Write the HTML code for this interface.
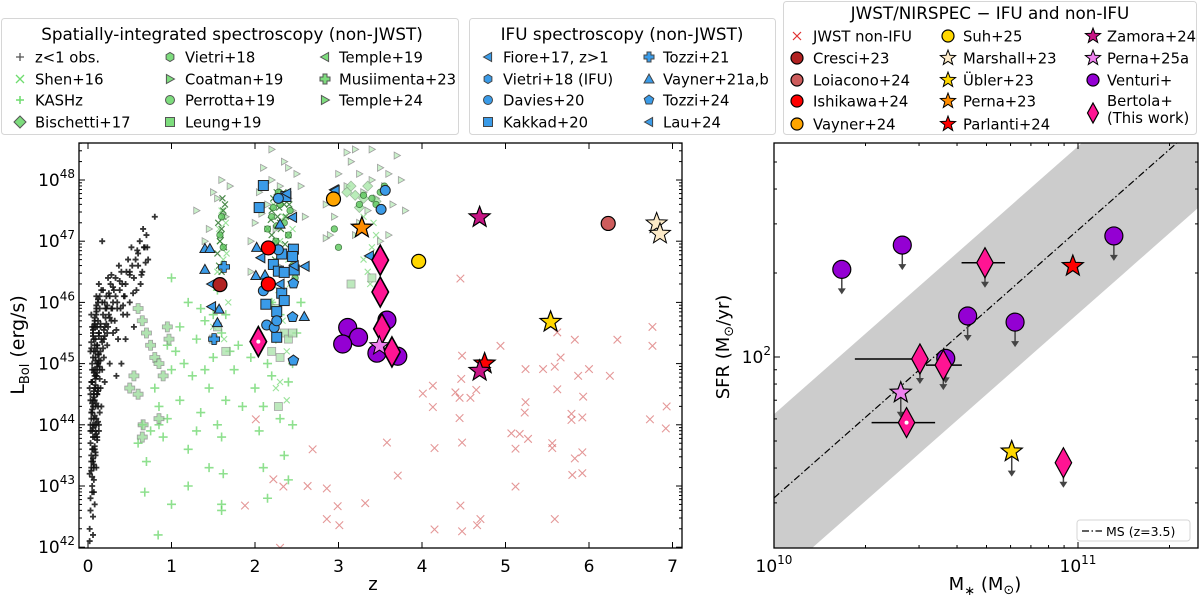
<!DOCTYPE html>
<html><head><meta charset="utf-8">
<style>
html,body{margin:0;padding:0;background:#fff;}
body{width:1200px;height:595px;overflow:hidden;font-family:"Liberation Sans","DejaVu Sans",sans-serif;}
svg text{font-family:"DejaVu Sans","Liberation Sans",sans-serif;fill:#000;}
</style></head>
<body>
<svg id="fig" width="1200" height="595" viewBox="0 0 1200 595" xmlns="http://www.w3.org/2000/svg">
<defs>
<clipPath id="clipL"><rect x="79" y="143" width="603" height="405"/></clipPath>
<clipPath id="clipR"><rect x="774" y="143" width="424" height="405"/></clipPath>
</defs>
<g id="legends"></g>
<g id="left"></g>
<g id="right"></g>
</svg>
<script>
// ---------------- LEFT PANEL DATA (z, log Lbol) ----------------
const blackZ=[0.02,0.03,0.02,0.04,0.05,0.06,0.03,0.08,0.05,0.07,0.1,0.04,0.09,0.06,0.12,0.08,0.11,0.13,0.05,0.15,0.1,0.14,0.17,0.2,0.18,0.22,0.25,0.27,0.3,0.23,0.26,0.3,0.33,0.35,0.38,0.4,0.36,0.42,0.45,0.48,0.5,0.52,0.55,0.58,0.6,0.62,0.65,0.68,0.7,0.55,0.45,0.4,0.34,0.2,0.16,0.13,0.1,0.07,0.06,0.17,0.8,0.03,0.05,0.07,0.09,0.11,0.12,0.08,0.06,0.09,0.14,0.16,0.19,0.21,0.24,0.28,0.31,0.37,0.43,0.47,0.5,0.57,0.63,0.72,0.66,0.03,0.02,0.04,0.1,0.13,0.07,0.05,0.03,0.08,0.11,0.06,0.04,0.09,0.12,0.15,0.02,0.04,0.06,0.08,0.1,0.12,0.14,0.07,0.05,0.09,
0.03,0.05,0.07,0.09,0.11,0.04,0.06,0.08,0.10,0.12,0.03,0.05,0.07,0.09,0.11,0.13,0.04,0.06,0.08,0.10,0.05,0.07,0.09,0.11,0.06,0.08,0.10,0.12,0.14,0.16,0.18,0.20,0.22,0.24,0.26,0.28,0.32,0.35,0.39,0.44,0.19,0.23,0.29,0.33,0.41,0.46,0.53,0.6,0.67,0.71,0.15,0.17,0.13,0.11,0.09,0.07,0.05,0.03,0.08,0.06,
0.04,0.06,0.08,0.10,0.12,0.05,0.07,0.09,0.11,0.13,0.04,0.06,0.08,0.10,0.12,0.14,0.05,0.07,0.09,0.11,0.06,0.08,0.10,0.12,0.14,0.07,0.09,0.11,0.13,0.15,0.04,0.06,0.08,0.10,0.12,0.05,0.07,0.09,0.11,0.13,0.17,0.19,0.21,0.23,0.25,0.15,0.18,0.2,0.22,0.26,0.28,0.3,0.34,0.38,0.42,0.5,0.54,0.59,0.64,0.69];
const blackL=[42.3,42.8,43.2,43.5,43.0,43.8,44.0,43.6,44.2,44.5,44.1,44.7,44.9,45.1,44.6,45.3,45.0,45.5,45.6,45.2,45.8,45.9,46.0,45.6,46.2,46.1,45.8,46.3,46.0,45.3,45.0,45.5,46.4,45.9,46.2,46.5,45.4,45.8,46.3,46.7,46.0,46.9,46.4,46.2,46.8,47.0,46.5,46.9,47.1,45.6,45.4,45.0,44.8,44.7,44.3,43.9,43.3,42.9,42.5,47.0,47.4,44.4,44.9,45.4,45.6,45.3,44.3,44.0,43.4,44.6,44.9,45.4,45.1,45.9,46.4,45.7,46.2,46.6,46.1,45.8,46.5,46.7,46.3,46.7,47.2,45.2,44.6,45.8,46.1,46.3,43.1,43.6,43.9,44.8,44.5,44.3,44.1,45.2,45.7,45.6,42.1,43.3,44.0,44.4,44.8,45.0,44.2,45.6,44.7,43.9,
43.7,43.9,44.1,44.3,44.5,44.2,44.4,44.6,44.8,45.0,44.5,44.7,44.9,45.1,45.3,45.5,43.4,43.6,43.8,44.0,45.0,45.2,45.4,45.6,45.5,45.7,45.9,46.0,46.1,46.2,45.8,46.0,45.9,45.6,46.1,45.9,45.7,46.0,45.9,46.1,45.4,45.5,45.9,46.1,46.3,46.5,46.6,46.6,46.9,46.9,44.6,44.9,44.0,43.8,43.5,43.3,42.9,42.6,42.7,42.2,
43.25,43.45,43.65,43.85,44.05,44.25,44.45,44.65,44.85,45.05,45.25,45.45,45.65,45.85,45.15,44.95,43.15,43.35,43.55,43.75,43.95,44.15,44.35,44.55,44.75,44.85,45.05,45.25,45.45,45.65,45.35,45.55,45.75,45.95,46.05,44.35,44.55,44.75,44.95,45.15,45.35,45.55,45.75,45.95,46.15,45.05,45.25,45.45,45.65,45.75,46.45,46.25,45.55,46.35,45.95,46.45,46.15,46.85,46.45,46.65];
const kashZ=[0.6,0.65,0.7,0.68,0.8,0.85,0.9,0.95,1.0,1.0,1.05,1.1,1.15,1.2,1.2,1.25,1.3,1.35,1.4,1.45,1.45,1.5,1.55,1.6,1.6,1.65,1.6,1.7,1.75,1.8,1.0,0.85,0.84,1.1,1.3,1.4,1.5,1.55,1.65,1.95,2.0,2.05,2.1,2.1,2.15,2.2,2.25,2.3,2.35,2.4,2.45,2.5,2.45,2.55,2.4,2.15,2.3,2.2,1.2,0.75,1.35,0.95,1.85,1.6,1.62];
const kashL=[43.7,44.0,43.4,42.9,44.6,44.3,43.8,44.1,42.7,44.9,45.2,44.4,45.0,43.6,46.0,44.8,45.4,44.2,45.7,44.6,43.3,45.1,44.0,45.5,43.8,44.4,42.6,45.2,44.9,45.3,46.4,44.0,42.2,45.6,43.9,44.9,45.8,46.2,45.8,45.1,44.6,43.9,44.3,43.3,45.0,44.8,45.4,44.1,43.5,44.7,45.0,45.5,44.0,46.0,43.1,42.8,45.8,46.0,43.0,43.9,45.9,45.3,44.3,42.7,43.2];
const shenZ=[1.55,1.6,1.62,1.58,1.65,1.6,1.55,1.68,1.5,1.63,1.57,1.66,2.2,2.25,2.3,2.35,2.28,2.4,2.45,2.22,2.33,2.38,2.42,2.3,2.25,2.38,3.3,3.35,3.4,3.45,3.38,3.42,3.3];
const shenL=[45.9,46.3,46.7,47.0,47.3,47.5,46.5,46.0,45.6,45.4,47.2,46.8,46.0,46.5,47.0,47.4,46.2,46.7,47.2,47.6,45.7,45.2,46.3,44.7,44.6,44.4,46.7,46.5,46.9,47.1,46.3,47.3,47.4];
const denseZ=[1.55,1.58,1.6,1.62,1.64,1.57,1.61,1.59,1.63,1.6,1.56,1.62,2.15,2.2,2.25,2.3,2.35,2.4,2.18,2.22,2.27,2.32,2.37,2.2,2.26,2.31,2.36,2.24,2.29,2.34,2.19,2.41];
const denseL=[46.8,47.0,47.2,47.4,47.6,46.6,47.7,47.1,46.9,46.5,47.3,47.5,47.2,47.5,47.0,47.3,47.6,47.1,46.9,47.7,47.4,46.8,47.4,47.1,47.8,47.2,46.95,46.7,47.55,47.8,47.35,47.6];
const coatZ=[1.3,1.45,1.55,1.6,1.65,1.7,1.5,1.4,1.95,1.95,2.0,2.05,2.1,2.15,2.2,2.25,2.3,2.35,2.4,2.45,2.5,2.55,2.6,2.2,2.4,2.08,2.18,2.28,2.45,2.85,2.9,3.0,3.1,3.15,3.2,3.25,3.3,3.35,3.4,3.45,3.5,3.55,3.6,3.7,3.75,3.65,3.8,3.2,3.5,3.25,2.95,3.6,2.85,3.1,3.4];
const coatL=[47.5,47.2,47.7,48.0,47.4,47.9,47.8,47.0,47.0,46.5,47.3,47.8,48.2,47.6,48.0,47.2,47.9,48.3,47.7,47.5,48.1,47.9,47.4,48.5,48.2,47.45,46.9,46.6,46.9,47.6,47.1,48.1,47.9,48.3,48.5,48.1,47.8,47.5,48.0,47.7,48.2,47.9,48.1,48.4,48.0,47.6,47.5,47.1,47.0,47.3,47.4,47.1,47.05,48.45,48.5];
const vietriZ=[2.15,2.2,2.25,2.3,2.35,2.4,2.28,2.18,2.32,2.42,2.22,2.38,2.26,1.58,1.62,1.6,2.45,2.48,3.4,3.5,3.45,3.55,2.95,3.0,3.25,3.3];
const vietriL=[47.2,47.4,47.0,47.6,47.3,47.1,47.8,46.9,46.8,47.5,47.55,47.7,47.25,47.1,46.9,47.4,46.6,46.4,47.7,47.8,47.6,47.9,47.2,46.9,47.6,47.75];
const bischZ=[3.15,3.2,3.3,3.35,3.25,3.1,3.45];
const bischL=[47.9,47.75,47.7,47.9,47.55,47.8,47.65];
const leungZ=[1.65,1.55,2.25,2.35,2.4,2.3,2.28,2.45,3.15,3.4,1.5,2.2];
const leungL=[45.2,45.6,45.9,45.5,45.4,45.1,44.3,45.5,46.3,46.4,45.4,45.2];
const musiZ=[0.5,0.55,0.6,0.7,0.75,0.65,0.8,0.85,0.9,0.95,0.97,0.6,0.66,0.65,0.85];
const musiL=[44.6,44.8,44.5,45.5,45.3,45.7,45.1,45.0,44.8,45.6,45.4,45.9,44.0,43.8,44.1];
const kakkadZ=[2.10,2.05,2.37,2.46,2.32,2.45,2.22,2.28,2.35,2.47,2.32,2.35,2.13,2.26,2.26];
const kakkadL=[47.91,47.55,47.73,46.87,46.79,46.75,46.62,46.51,46.49,46.53,46.15,46.03,45.97,45.85,45.43];
const daviesZ=[2.28,2.10,2.14,2.23,2.26,2.28,3.56,3.51];
const daviesL=[47.70,46.19,45.63,45.59,45.70,46.86,47.83,47.52];
const vaynerZ=[1.40,1.46,1.40,1.57,1.55,2.02,2.01,2.12,2.30,2.59];
const vaynerL=[46.88,46.88,46.54,45.89,45.67,46.90,46.44,46.45,47.28,45.77];
const fioreZ=[1.48,1.48,2.07,2.30,2.38,2.45,2.60,2.47,3.37,2.95];
const fioreL=[46.30,45.93,46.73,46.30,47.78,47.39,46.59,46.60,46.76,47.84];
const tozzi21Z=[1.63,1.51];
const tozzi21L=[46.58,45.40];
const tozzi24Z=[2.46,2.45,2.46];
const tozzi24L=[45.05,45.76,46.31];
const jwstZ=[4.46,6.76,6.76,5.83,6.34,5.62,4.94,4.48,5.66,5.24,5.45,5.59,6.0,5.87,6.25,4.47,4.13,4.01,4.40,4.65,4.45,4.58,5.62,5.93,4.13,5.24,5.23,5.79,5.92,5.79,6.93,6.73,6.92,4.45,5.07,5.17,5.27,3.58,4.15,4.48,5.12,5.56,5.56,5.83,5.92,2.69,3.71,5.80,5.92,2.63,2.86,5.12,3.32,2.99,4.46,2.86,3.01,4.70,4.66,5.59,4.15,4.48,2.01,2.22,2.34,1.88,2.30];
const jwstL=[46.39,45.60,45.29,45.39,45.39,45.51,45.29,45.13,45.10,44.91,44.91,44.95,44.91,44.80,44.80,44.75,44.64,44.51,44.53,44.57,44.44,44.44,44.58,44.46,44.29,44.37,44.20,44.18,44.12,44.08,44.30,44.09,43.94,44.11,43.86,43.85,43.77,43.71,43.62,43.71,43.61,43.70,43.62,43.45,43.55,43.60,43.17,43.18,43.21,43.00,42.96,42.99,42.72,42.67,42.68,42.46,42.36,42.46,42.36,42.46,42.29,42.26,44.09,43.11,42.99,42.68,41.99];
const cresciZ=[1.58], cresciL=[46.29];
const loiaZ=[6.23], loiaL=[47.29];
const ishiZ=[2.16,2.16], ishiL=[46.89,46.30];
const vay24Z=[2.94], vay24L=[47.69];
const lauZ=[2.96], lauL=[47.83];
const suhZ=[3.96], suhL=[46.67];
const marshZ=[6.81,6.85], marshL=[47.29,47.12];
const ublerZ=[5.54], ublerL=[45.68];
const perna23Z=[3.28], perna23L=[47.22];
const parlZ=[4.75], parlL=[45.0];
const zamZ=[4.69,4.69], zamL=[47.39,44.88];
const perna25Z=[3.49], perna25L=[45.29];
const ventZ=[3.11,3.24,3.05,3.58,3.46,3.71], ventL=[45.59,45.43,45.32,45.71,45.17,45.12];
const bertZ=[3.50,3.50,3.52,3.64], bertL=[46.69,46.17,45.57,45.19];
const bertDotZ=[2.04], bertDotL=[45.36];
const zTicks=[0,1,2,3,4,5,6,7];
const lTicks=[42,43,44,45,46,47,48];

// ---------------- RIGHT PANEL DATA (log M*, log SFR) ----------------
const ventM=[10.223,10.422,10.637,10.793,11.118,10.565];
const ventS=[2.314,2.401,2.147,2.125,2.434,1.995];
const bertM=[10.694,10.480,10.557,10.952];
const bertS=[2.338,1.993,1.971,1.621];
const bertMlo=[10.617,10.266,10.50,10.952];
const bertMhi=[10.760,10.507,10.618,10.952];
const bertDotM=[10.436], bertDotS=[1.765], bertDotMlo=[10.321], bertDotMhi=[10.530];
const perna25M=[10.417], perna25S=[1.872];
const ublerM=[10.782], ublerS=[1.661];
const parlM=[10.983], parlS=[2.326];
const msIntercept=1.495, msSlope=0.96, msScatter=0.3;

// ---------------- helpers ----------------
const NS="http://www.w3.org/2000/svg";
function el(tag, attrs, parent){const e=document.createElementNS(NS,tag);for(const k in attrs)e.setAttribute(k,attrs[k]);parent.appendChild(e);return e;}
function starPath(cx,cy,R){let d="";for(let i=0;i<10;i++){const r=i%2?R*0.42:R;const a=-Math.PI/2+i*Math.PI/5;d+=(i?"L":"M")+(cx+r*Math.cos(a)).toFixed(2)+","+(cy+r*Math.sin(a)).toFixed(2);}return d+"Z";}
function marker(parent,shape,x,y,s,fill,stroke,sw,op){
  let e;
  if(shape==="circle"){e=el("circle",{cx:x,cy:y,r:s},parent);}
  else if(shape==="square"){e=el("rect",{x:x-s,y:y-s,width:2*s,height:2*s},parent);}
  else if(shape==="bdiamond"){e=el("path",{d:`M${x},${y-s}L${x+s*0.55},${y}L${x},${y+s}L${x-s*0.55},${y}Z`},parent);}
  else if(shape==="sdiamond"){e=el("path",{d:`M${x},${y-s}L${x+s},${y}L${x},${y+s}L${x-s},${y}Z`},parent);}
  else if(shape==="tri-up"){e=el("path",{d:`M${x},${y-s}L${x+s},${y+s*0.8}L${x-s},${y+s*0.8}Z`},parent);}
  else if(shape==="tri-left"){e=el("path",{d:`M${x-s},${y}L${x+s*0.8},${y-s}L${x+s*0.8},${y+s}Z`},parent);}
  else if(shape==="tri-right"){e=el("path",{d:`M${x+s},${y}L${x-s*0.8},${y-s}L${x-s*0.8},${y+s}Z`},parent);}
  else if(shape==="pent"){let d="";for(let i=0;i<5;i++){const a=-Math.PI/2+i*2*Math.PI/5;d+=(i?"L":"M")+(x+s*Math.cos(a)).toFixed(2)+","+(y+s*Math.sin(a)).toFixed(2);}e=el("path",{d:d+"Z"},parent);}
  else if(shape==="hex"){let d="";for(let i=0;i<6;i++){const a=Math.PI/6+i*Math.PI/3;d+=(i?"L":"M")+(x+s*Math.cos(a)).toFixed(2)+","+(y+s*Math.sin(a)).toFixed(2);}e=el("path",{d:d+"Z"},parent);}
  else if(shape==="star"){e=el("path",{d:starPath(x,y,s)},parent);}
  else if(shape==="plus"){e=el("path",{d:`M${x-s},${y}H${x+s}M${x},${y-s}V${y+s}`},parent);fill="none";}
  else if(shape==="x"){e=el("path",{d:`M${x-s},${y-s}L${x+s},${y+s}M${x-s},${y+s}L${x+s},${y-s}`},parent);fill="none";}
  else if(shape==="fatplus"){const a=s*0.4;e=el("path",{d:`M${x-a},${y-s}H${x+a}V${y-a}H${x+s}V${y+a}H${x+a}V${y+s}H${x-a}V${y+a}H${x-s}V${y-a}H${x-a}Z`},parent);}
  e.setAttribute("fill",fill);e.setAttribute("stroke",stroke);e.setAttribute("stroke-width",sw);
  if(op!==undefined&&op<1)e.setAttribute("opacity",op);
  return e;
}
function txt(parent,x,y,s,size,anchor){
  const t=el("text",{x:x,y:y,"font-size":size,"text-anchor":anchor||"start"},parent);t.textContent=s;return t;}

// ---------------- LEGENDS ----------------
const LG=document.getElementById("legends");
function legendBox(x,y,w,h,name){const r=el("rect",{x:x,y:y,width:w,height:h,rx:3,fill:"#fff",stroke:"#d6d6d6","stroke-width":1},LG);}
legendBox(1.5,18.5,457,116,"legend-spatially-integrated");
legendBox(469.5,18.5,306,116,"legend-ifu");
legendBox(783.5,1.5,413,133,"legend-jwst");
function legendEntry(shape,mx,my,s,fill,stroke,sw,op,label,tx,name,fs){
  const g=el("g",{},LG);
  
  
  marker(g,shape,mx,my,s,fill,stroke,sw,op);
  txt(g,tx,my+5.5,label,fs,"start");
}
let t=txt(LG,232,40,"Spatially-integrated spectroscopy (non-JWST)",16.8,"middle");

t=txt(LG,622,40,"IFU spectroscopy (non-JWST)",16.8,"middle");

t=txt(LG,990,19,"JWST/NIRSPEC − IFU and non-IFU",16.8,"middle");

const gS="#6fdc6f";
const rows=[57,79,100,122];
const F1=14.8;
legendEntry("plus",20,rows[0],4,"none","#555",1.3,1,"z<1 obs.",35,"legend-entry-z-lt-1",F1);
legendEntry("x",20,rows[1],4,"none",gS,1.3,1,"Shen+16",35,"legend-entry-shen16",F1);
legendEntry("plus",20,rows[2],4,"none",gS,1.5,1,"KASHz",35,"legend-entry-kashz",F1);
legendEntry("sdiamond",20,rows[3],6,"#7ddc7d","#555",1,1,"Bischetti+17",35,"legend-entry-bischetti17",F1);
legendEntry("hex",170,rows[0],4.5,"#7ddc7d","#555",1,1,"Vietri+18",185,"legend-entry-vietri18",F1);
legendEntry("tri-right",170,rows[1],4.5,"#7ddc7d","#555",1,1,"Coatman+19",185,"legend-entry-coatman19",F1);
legendEntry("circle",170,rows[2],4.5,"#7ddc7d","#555",1,1,"Perrotta+19",185,"legend-entry-perrotta19",F1);
legendEntry("square",170,rows[3],4.5,"#7ddc7d","#555",1,1,"Leung+19",185,"legend-entry-leung19",F1);
legendEntry("tri-left",325,rows[0],4.5,"#7ddc7d","#555",1,1,"Temple+19",339,"legend-entry-temple19",F1);
legendEntry("fatplus",325,rows[1],5,"#7ddc7d","#555",1,1,"Musiimenta+23",339,"legend-entry-musiimenta23",F1);
legendEntry("tri-right",325,rows[2],4.5,"#7ddc7d","#555",1,1,"Temple+24",339,"legend-entry-temple24",F1);
const bl="#3a9be8";
legendEntry("tri-left",488,rows[0],4.5,bl,"#444",1,1,"Fiore+17, z>1",503,"legend-entry-fiore17",F1);
legendEntry("hex",488,rows[1],4.5,bl,"#444",1,1,"Vietri+18 (IFU)",503,"legend-entry-vietri18-ifu",F1);
legendEntry("circle",488,rows[2],4.5,bl,"#444",1,1,"Davies+20",503,"legend-entry-davies20",F1);
legendEntry("square",488,rows[3],4.5,bl,"#444",1,1,"Kakkad+20",503,"legend-entry-kakkad20",F1);
legendEntry("fatplus",649,rows[0],5,bl,"#444",1,1,"Tozzi+21",663,"legend-entry-tozzi21",F1);
legendEntry("tri-up",649,rows[1],5,bl,"#444",1,1,"Vayner+21a,b",663,"legend-entry-vayner21",F1);
legendEntry("pent",649,rows[2],5,bl,"#444",1,1,"Tozzi+24",663,"legend-entry-tozzi24",F1);
legendEntry("tri-left",649,rows[3],4.5,bl,"#444",1,1,"Lau+24",663,"legend-entry-lau24",F1);
const r3=[36,58,80,101,124], F3=14.8;
legendEntry("x",797,r3[0],4,"none","#e03030",1.2,1,"JWST non-IFU",813,"legend-entry-jwst-non-ifu",F3);
legendEntry("circle",797,r3[1],6,"#b22222","#000",1.2,1,"Cresci+23",813,"legend-entry-cresci23",F3);
legendEntry("circle",797,r3[2],6,"#cd5c5c","#000",1.2,1,"Loiacono+24",813,"legend-entry-loiacono24",F3);
legendEntry("circle",797,r3[3],6,"#ff0000","#000",1.2,1,"Ishikawa+24",813,"legend-entry-ishikawa24",F3);
legendEntry("circle",797,r3[4],6,"#ffa500","#000",1.2,1,"Vayner+24",813,"legend-entry-vayner24",F3);
legendEntry("circle",948,r3[0],6,"#ffd700","#000",1.2,1,"Suh+25",963,"legend-entry-suh25",F3);
legendEntry("star",948,r3[1],8,"#fdebc8","#000",1,1,"Marshall+23",963,"legend-entry-marshall23",F3);
legendEntry("star",948,r3[2],8,"#ffd700","#000",1,1,"Übler+23",963,"legend-entry-ubler23",F3);
legendEntry("star",948,r3[3],8,"#ff8c00","#000",1,1,"Perna+23",963,"legend-entry-perna23",F3);
legendEntry("star",948,r3[4],8,"#ff0000","#000",1,1,"Parlanti+24",963,"legend-entry-parlanti24",F3);
legendEntry("star",1093,r3[0],8,"#c71585","#000",1,1,"Zamora+24",1107,"legend-entry-zamora24",F3);
legendEntry("star",1093,r3[1],8,"#ee82ee","#000",1,1,"Perna+25a",1107,"legend-entry-perna25a",F3);
legendEntry("circle",1093,r3[2],6,"#9400d3","#000",1.2,1,"Venturi+",1107,"legend-entry-venturi",F3);
(function(){const g=el("g",{},LG);


marker(g,"bdiamond",1093,113,10,"#ff1493","#000",1.2,1);
txt(g,1107,106,"Bertola+",F3,"start");txt(g,1107,123,"(This work)",F3,"start");})();

// ---------------- LEFT PANEL ----------------
const L=document.getElementById("left");
const xL=z=>88+83.5*z, yL=l=>180+(48-l)*61.2;
const axL=el("rect",{x:79,y:143,width:603,height:405,fill:"#fff",stroke:"none"},L);

const pts=el("g",{"clip-path":"url(#clipL)"},L);

function series(name,Z,Lv,shape,s,fill,stroke,sw,op){
  const g=el("g",{},pts);
  
  
  for(let i=0;i<Z.length;i++){const m=marker(g,shape,xL(Z[i]),yL(Lv[i]),s,fill,stroke,sw,op);
    
    }
}
series("jwst-non-ifu",jwstZ,jwstL,"x",3.8,"none","#d66060",1.1,0.65);
series("kashz",kashZ,kashL,"plus",4.5,"none","#5ed35e",1.6,0.7);
series("musiimenta23",musiZ,musiL,"fatplus",5,"#8fd88f","#777",0.8,0.7);
series("z-lt-1",blackZ,blackL,"plus",3,"none","#111",1.8,0.85);
series("shen16",shenZ,shenL,"x",3,"none","#58d058",1.1,0.6);
series("shen16-dense",denseZ,denseL,"x",3,"none","#1f6e1f",1.2,0.8);
series("coatman-temple",coatZ,coatL,"tri-right",3.5,"#b4ecb4","#777",0.8,0.7);
series("leung19",leungZ,leungL,"square",4,"#a8e2a8","#888",0.8,0.75);
series("bischetti17",bischZ,bischL,"sdiamond",5,"#a8e8a8","#8a8",0.8,0.8);
series("vietri-perrotta",vietriZ,vietriL,"circle",3.2,"#66cc66","#2d6b2d",0.8,0.85);
series("kakkad20",kakkadZ,kakkadL,"square",5,"#3a9be8","#222",1,1);
series("davies20",daviesZ,daviesL,"circle",5,"#3a9be8","#222",1,1);
series("vayner21",vaynerZ,vaynerL,"tri-up",5,"#3a9be8","#222",1,1);
series("fiore17",fioreZ,fioreL,"tri-left",5,"#3a9be8","#222",1,1);
series("tozzi21",tozzi21Z,tozzi21L,"fatplus",5.5,"#3a9be8","#222",0.8,1);
series("tozzi24",tozzi24Z,tozzi24L,"pent",5.5,"#3a9be8","#222",1,1);
series("cresci23",cresciZ,cresciL,"circle",7,"#b22222","#000",1.2,1);
series("loiacono24",loiaZ,loiaL,"circle",7,"#cd5c5c","#000",1.2,1);
series("ishikawa24",ishiZ,ishiL,"circle",7,"#ff0000","#000",1.2,1);
series("lau24",lauZ,lauL,"tri-left",5,"#3a9be8","#222",1,1);
series("vayner24",vay24Z,vay24L,"circle",7,"#ffa500","#000",1.2,1);
series("suh25",suhZ,suhL,"circle",7,"#ffd700","#000",1.2,1);
series("venturi",ventZ,ventL,"circle",9,"#9400d3","#000",1.2,1);
series("marshall23",marshZ,marshL,"star",11,"#fdebc8","#000",1,1);
series("ubler23",ublerZ,ublerL,"star",11,"#ffd700","#000",1.2,1);
series("perna23",perna23Z,perna23L,"star",11,"#ff8c00","#000",1.2,1);
series("parlanti24",parlZ,parlL,"star",11,"#ff0000","#000",1.2,1);
series("zamora24",zamZ,zamL,"star",11,"#c71585","#000",1.2,1);
series("bertola",bertZ,bertL,"bdiamond",15,"#ff1493","#000",1.6,1);
series("perna25a",perna25Z,perna25L,"star",10,"#ee82ee","#000",1,1);
series("bertola-highlight",bertDotZ,bertDotL,"bdiamond",15,"#ff1493","#000",1.6,1);
(function(){const c=el("circle",{cx:xL(bertDotZ[0]),cy:yL(bertDotL[0]),r:2,fill:"#fff"},pts);
})();
const fr=el("rect",{x:79,y:143,width:603,height:405,fill:"none",stroke:"#000","stroke-width":1.3},L);

const tk=el("g",{stroke:"#000","stroke-width":1},L);

zTicks.forEach(z=>{const x=xL(z);el("line",{x1:x,y1:548,x2:x,y2:542},tk);el("line",{x1:x,y1:143,x2:x,y2:149},tk);
  const tl=el("text",{x:x,y:572,"font-size":17,"text-anchor":"middle"},L);
  tl.textContent=String(z);
  
  });
for(let d=41;d<=48;d++){for(let k=1;k<10;k++){const l=d+Math.log10(k);const y=yL(l);if(y<143||y>548)continue;
  const len=k===1?6:3;el("line",{x1:79,y1:y,x2:79+len,y2:y},tk);el("line",{x1:682,y1:y,x2:682-len,y2:y},tk);}}
lTicks.forEach(l=>{const y=yL(l);const g=el("text",{x:75,y:y+6,"font-size":17,"text-anchor":"end"},L);
  
  
  g.innerHTML="10<tspan dy='-8' font-size='12'>"+l+"</tspan>";});
(function(){const g=el("text",{x:373,y:590,"font-size":18,"text-anchor":"middle"},L);g.textContent="z";
})();
(function(){const g=el("text",{x:0,y:0,"font-size":19,"text-anchor":"middle",transform:"translate(24,345) rotate(-90)"},L);


g.innerHTML="L<tspan dy='5' font-size='13'>Bol</tspan><tspan dy='-5'> (erg/s)</tspan>";})();

// ---------------- RIGHT PANEL ----------------
const R=document.getElementById("right");
const xR=m=>774+304*(m-10), yR=s=>357+(2-s)*279;
const band=el("g",{"clip-path":"url(#clipR)"},R);

const ms=m=>msIntercept+msSlope*(m-10);
let up=[],lo=[],ln=[];
for(let m=9.9;m<=11.5;m+=0.05){up.push(xR(m)+","+yR(ms(m)+msScatter));lo.push(xR(m)+","+yR(ms(m)-msScatter));ln.push(xR(m)+","+yR(ms(m)));}
const poly=el("polygon",{points:up.concat(lo.reverse()).join(" "),fill:"#cccccc",stroke:"none"},band);

const msl=el("polyline",{points:ln.join(" "),fill:"none",stroke:"#000","stroke-width":1.2,"stroke-dasharray":"7,2.5,1.5,2.5"},band);

function arrow(g,x,y){el("line",{x1:x,y1:y,x2:x,y2:y+22,stroke:"#444","stroke-width":1.5},g);el("path",{d:`M${x-4},${y+19}L${x+4},${y+19}L${x},${y+25}Z`,fill:"#444"},g);}
function rseries(name,M,S,shape,s,fill,withArrow,lo,hi){
  const g=el("g",{},band);
  
  
  for(let i=0;i<M.length;i++){const x=xR(M[i]),y=yR(S[i]);
    if(lo&&lo[i]!==hi[i])el("line",{x1:xR(lo[i]),y1:y,x2:xR(hi[i]),y2:y,stroke:"#000","stroke-width":1.5},g);
    if(withArrow)arrow(g,x,y);
    const m=marker(g,shape,x,y,s,fill,"#000",1.2,1);
    
    }
}
rseries("venturi-sfr",ventM,ventS,"circle",9,"#9400d3",true);
rseries("bertola-sfr",bertM,bertS,"bdiamond",15,"#ff1493",true,bertMlo,bertMhi);
rseries("perna25a-sfr",perna25M,perna25S,"star",11,"#ee82ee",true);
rseries("bertola-highlight-sfr",bertDotM,bertDotS,"bdiamond",15,"#ff1493",false,bertDotMlo,bertDotMhi);
(function(){const c=el("circle",{cx:xR(bertDotM[0]),cy:yR(bertDotS[0]),r:2,fill:"#fff"},band);
})();
rseries("ubler23-sfr",ublerM,ublerS,"star",11,"#ffd700",true);
rseries("parlanti24-sfr",parlM,parlS,"star",11,"#ff0000",false);
const fr2=el("rect",{x:774,y:143,width:424,height:405,fill:"none",stroke:"#000","stroke-width":1.3},R);

const tk2=el("g",{stroke:"#000","stroke-width":1},R);

for(let d=10;d<=11;d++)for(let k=1;k<10;k++){const x=xR(d+Math.log10(k));if(x>1198)continue;const len=k===1?6:3;
  el("line",{x1:x,y1:548,x2:x,y2:548-len},tk2);el("line",{x1:x,y1:143,x2:x,y2:143+len},tk2);}
for(let d=1;d<=2;d++)for(let k=1;k<10;k++){const y=yR(d+Math.log10(k));if(y<143||y>548)continue;const len=k===1?6:3;
  el("line",{x1:774,y1:y,x2:774+len,y2:y},tk2);el("line",{x1:1198,y1:y,x2:1198-len,y2:y},tk2);}
[10,11].forEach(p=>{const g=el("text",{x:xR(p),y:572,"font-size":17,"text-anchor":"middle"},R);
  
  
  g.innerHTML="10<tspan dy='-8' font-size='12'>"+p+"</tspan>";});
(function(){const g=el("text",{x:771,y:363,"font-size":17,"text-anchor":"end"},R);


g.innerHTML="10<tspan dy='-8' font-size='12'>2</tspan>";})();
(function(){const g=el("text",{x:985,y:590,"font-size":18,"text-anchor":"middle"},R);


g.innerHTML="M<tspan dy='5' font-size='13'>∗</tspan><tspan dy='-5'> (M</tspan><tspan dy='4' font-size='13'>⊙</tspan><tspan dy='-4'>)</tspan>";})();
(function(){const g=el("text",{x:0,y:0,"font-size":18,"text-anchor":"middle",transform:"translate(729,347) rotate(-90)"},R);


g.innerHTML="SFR (M<tspan dy='4' font-size='13'>⊙</tspan><tspan dy='-4'>/yr)</tspan>";})();
(function(){const g=el("g",{},R);


el("rect",{x:1077,y:520,width:113,height:21,rx:3,fill:"#fff",stroke:"#d6d6d6"},g);
el("line",{x1:1082,y1:531,x2:1102,y2:531,stroke:"#000","stroke-width":1.2,"stroke-dasharray":"7,2.5,1.5,2.5"},g);
txt(g,1106,536,"MS (z=3.5)",12.5);})();
</script>
</body></html>
